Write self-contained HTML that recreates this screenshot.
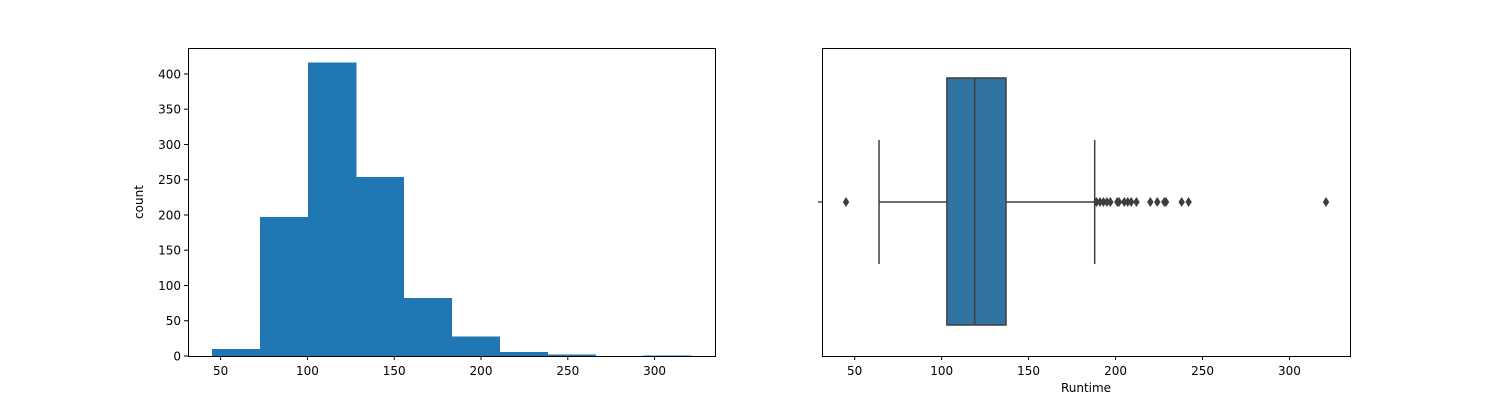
<!DOCTYPE html>
<html><head><meta charset="utf-8"><style>
body{margin:0;background:#fff;font-family:"Liberation Sans","DejaVu Sans",sans-serif}
svg text{font-family:"DejaVu Sans","Liberation Sans",sans-serif;font-size:12px;fill:#000}
</style></head><body>
<svg id="c" width="1500" height="400"></svg>
<script>
const binEdgesMin = 45, binEdgesMax = 321;
const histCounts = [10, 197, 416, 254, 82, 28, 6, 2, 0, 1];
const yTicks = [0, 50, 100, 150, 200, 250, 300, 350, 400];
const xTicks = [50, 100, 150, 200, 250, 300];
const boxStats = {whiskerLow: 64, q1: 103, median: 119, q3: 137, whiskerHigh: 188};
const outliers = [45, 189, 191, 193, 195, 197, 201, 202, 205, 207, 209, 212, 220, 224, 228, 229, 238, 242, 321];

const NS = "http://www.w3.org/2000/svg";
const svg = document.getElementById('c');
function mk(tag, attrs, parent) {
  const e = document.createElementNS(NS, tag);
  for (const k in attrs) e.setAttribute(k, attrs[k]);
  (parent || svg).appendChild(e);
  return e;
}
const xmin = binEdgesMin - (binEdgesMax - binEdgesMin) * 0.05;
const xmax = binEdgesMax + (binEdgesMax - binEdgesMin) * 0.05;
function xL(v) { return 188 + (v - xmin) / (xmax - xmin) * 527; }
function xR(v) { return 822 + (v - xmin) / (xmax - xmin) * 528; }
const ymaxH = Math.max(...histCounts) * 1.05;
function yL(v) { return 356 - v / ymaxH * 308; }

// Left histogram
const gL = mk('g', {});


const bw = (binEdgesMax - binEdgesMin) / histCounts.length;
histCounts.forEach((c, i) => {
  const x0 = xL(binEdgesMin + i * bw), x1 = xL(binEdgesMin + (i + 1) * bw);
  const r = mk('rect', {x: x0, y: yL(c), width: x1 - x0 + 0.6, height: 356 - yL(c), fill: '#1f77b4', 'shape-rendering': 'crispEdges'}, gL);
  
  
});
const frL = mk('rect', {x: 188.5, y: 48.5, width: 527, height: 308, fill: 'none', stroke: '#000', 'stroke-width': 1}, gL);


yTicks.forEach(t => {
  const y = yL(t);
  mk('line', {x1: 184, x2: 188, y1: y, y2: y, stroke: '#000'}, gL);
  const tx = mk('text', {x: 181, y: y + 4.5, 'text-anchor': 'end'}, gL);
  tx.textContent = t;
  
  
});
xTicks.forEach(t => {
  const x = xL(t);
  mk('line', {x1: x, x2: x, y1: 356, y2: 360, stroke: '#000'}, gL);
  const tx = mk('text', {x: x, y: 375, 'text-anchor': 'middle'}, gL);
  tx.textContent = t;
  
  
});
const yt = mk('text', {x: 143, y: 202, 'text-anchor': 'middle', transform: 'rotate(-90 143 202)'}, gL);
yt.textContent = 'count';



// Right boxplot
const gR = mk('g', {});


const cy = 202, by0 = 78, by1 = 325, ec = '#3f3f3f';
const wl = mk('line', {x1: xR(boxStats.whiskerLow), x2: xR(boxStats.q1), y1: cy, y2: cy, stroke: ec, 'stroke-width': 1.5}, gR);


const wh = mk('line', {x1: xR(boxStats.q3), x2: xR(boxStats.whiskerHigh), y1: cy, y2: cy, stroke: ec, 'stroke-width': 1.5}, gR);


[boxStats.whiskerLow, boxStats.whiskerHigh].forEach(v => {
  const c = mk('line', {x1: xR(v), x2: xR(v), y1: 140, y2: 264, stroke: ec, 'stroke-width': 1.5}, gR);
  
  
});
const box = mk('rect', {x: xR(boxStats.q1), y: by0, width: xR(boxStats.q3) - xR(boxStats.q1), height: by1 - by0, fill: '#3274a1', stroke: ec, 'stroke-width': 1.5}, gR);


const med = mk('line', {x1: xR(boxStats.median), x2: xR(boxStats.median), y1: by0, y2: by1, stroke: ec, 'stroke-width': 1.5}, gR);


outliers.forEach(v => {
  const x = xR(v);
  const p = mk('polygon', {points: `${x},${cy-5} ${x+3.2},${cy} ${x},${cy+5} ${x-3.2},${cy}`, fill: '#3d3d3d'}, gR);
  
  
});
const frR = mk('rect', {x: 822.5, y: 48.5, width: 528, height: 308, fill: 'none', stroke: '#000', 'stroke-width': 1}, gR);


mk('line', {x1: 818, x2: 822, y1: cy, y2: cy, stroke: '#000'}, gR);
xTicks.forEach(t => {
  const x = xR(t);
  mk('line', {x1: x, x2: x, y1: 356, y2: 360, stroke: '#000'}, gR);
  const tx = mk('text', {x: x, y: 375, 'text-anchor': 'middle'}, gR);
  tx.textContent = t;
  
  
});
const xt = mk('text', {x: 1086, y: 392, 'text-anchor': 'middle'}, gR);
xt.textContent = 'Runtime';


</script>
</body></html>
